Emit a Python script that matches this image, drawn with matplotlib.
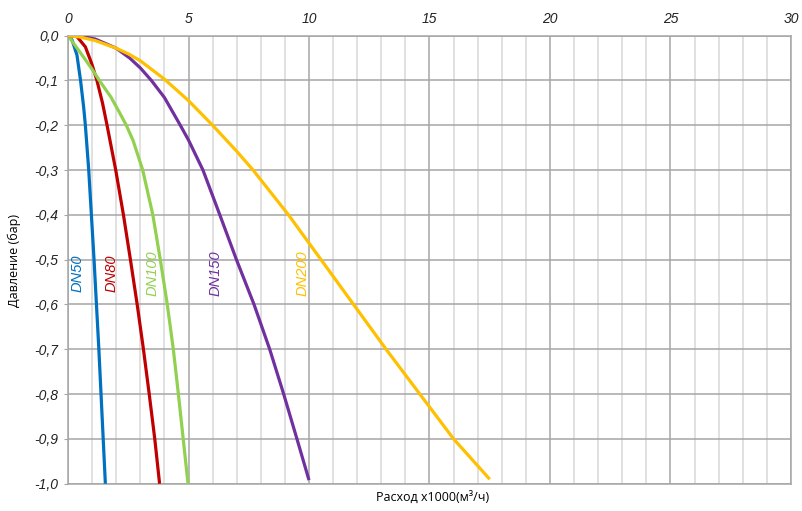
import matplotlib
matplotlib.use('Agg')
import matplotlib.pyplot as plt
from matplotlib.ticker import MultipleLocator, FuncFormatter

# flow x1000 m3/h vs pressure (bar)
dn50_x = [0, 0.17, 0.37, 0.52, 0.65, 0.72, 0.86, 0.97, 1.08, 1.18, 1.28, 1.37, 1.46, 1.55]
dn50_y = [0, -0.01, -0.043, -0.1, -0.16, -0.2, -0.3, -0.4, -0.5, -0.6, -0.7, -0.8, -0.9, -1.0]

dn80_x = [0, 0.37, 0.72, 0.98, 1.2, 1.43, 1.62, 1.98, 2.3, 2.59, 2.87, 3.13, 3.37, 3.6, 3.8]
dn80_y = [0, -0.002, -0.025, -0.062, -0.1, -0.15, -0.2, -0.3, -0.4, -0.5, -0.6, -0.7, -0.8, -0.9, -1.0]

dn100_x = [0, 0.58, 1.0, 1.3, 1.78, 2.12, 2.42, 2.7, 3.1, 3.52, 3.83, 4.12, 4.37, 4.58, 4.78, 4.98]
dn100_y = [0, -0.043, -0.075, -0.1, -0.137, -0.17, -0.2, -0.234, -0.3, -0.4, -0.5, -0.6, -0.7, -0.8, -0.9, -1.0]

dn150_x = [0, 0.5, 1.13, 2.0, 2.56, 3.0, 3.46, 4.0, 4.66, 5.0, 5.6, 6.3, 6.99, 7.72, 8.37, 8.95, 9.5, 10.0]
dn150_y = [0, -0.001, -0.0075, -0.028, -0.05, -0.072, -0.1, -0.138, -0.2, -0.233, -0.3, -0.4, -0.5, -0.6, -0.7, -0.8, -0.9, -0.992]

dn200_x = [0, 0.5, 1.13, 2.0, 2.52, 3.0, 4.0, 5.0, 6.0, 7.0, 7.68, 9.15, 10.5, 11.85, 13.2, 14.6, 16.0, 17.5]
dn200_y = [0, -0.003, -0.011, -0.028, -0.041, -0.056, -0.097, -0.145, -0.2, -0.258, -0.3, -0.4, -0.5, -0.6, -0.7, -0.8, -0.9, -0.99]

series = [
    ('DN50', dn50_x, dn50_y, '#0070C0', 0.38),
    ('DN80', dn80_x, dn80_y, '#C00000', 1.8),
    ('DN100', dn100_x, dn100_y, '#92D050', 3.5),
    ('DN150', dn150_x, dn150_y, '#7030A0', 6.14),
    ('DN200', dn200_x, dn200_y, '#FFC000', 9.74),
]
label_y = -0.53

fig = plt.figure(figsize=(8.03, 5.11), dpi=100)
ax = fig.add_axes([0.0847, 0.0534, 0.9003, 0.8768])

for name, xs, ys, col, lx in series:
    ax.plot(xs, ys, color=col, linewidth=2.3, solid_capstyle='butt',
            solid_joinstyle='round', zorder=3)
    ax.text(lx, label_y, name, color=col, rotation=90, style='italic',
            fontsize=10.5, family='Liberation Sans', ha='center', va='center')

ax.set_xlim(0, 30)
ax.set_ylim(-1.0, 0.0)
ax.xaxis.tick_top()
ax.xaxis.set_major_locator(MultipleLocator(5))
ax.xaxis.set_minor_locator(MultipleLocator(1))
ax.yaxis.set_major_locator(MultipleLocator(0.1))

def yfmt(v, pos):
    if abs(v) < 1e-9:
        v = 0.0
    return ('%.1f' % v).replace('.', ',')

ax.yaxis.set_major_formatter(FuncFormatter(yfmt))

ax.grid(which='major', color='#a6a6a6', linewidth=1.1, zorder=0)
ax.grid(which='minor', axis='x', color='#d9d9d9', linewidth=1.1, zorder=0)
ax.set_axisbelow(True)
for s in ax.spines.values():
    s.set_color('#a6a6a6')
    s.set_linewidth(1.1)

ax.tick_params(axis='x', which='both', length=0, pad=7)
ax.tick_params(axis='y', length=3, color='#a6a6a6', pad=4)
for lab in ax.get_xticklabels() + ax.get_yticklabels():
    lab.set_family('Liberation Sans')
    lab.set_style('italic')
    lab.set_fontsize(10)
    lab.set_color('#222222')

fig.text(0.539, 0.027, 'Расход x1000(м³/ч)', ha='center', va='center',
         family='Open Sans', fontsize=9)
fig.text(0.018, 0.49, 'Давление (бар)', ha='center', va='center', rotation=90,
         family='Open Sans', fontsize=9)

fig.savefig('out.png', dpi=100)
